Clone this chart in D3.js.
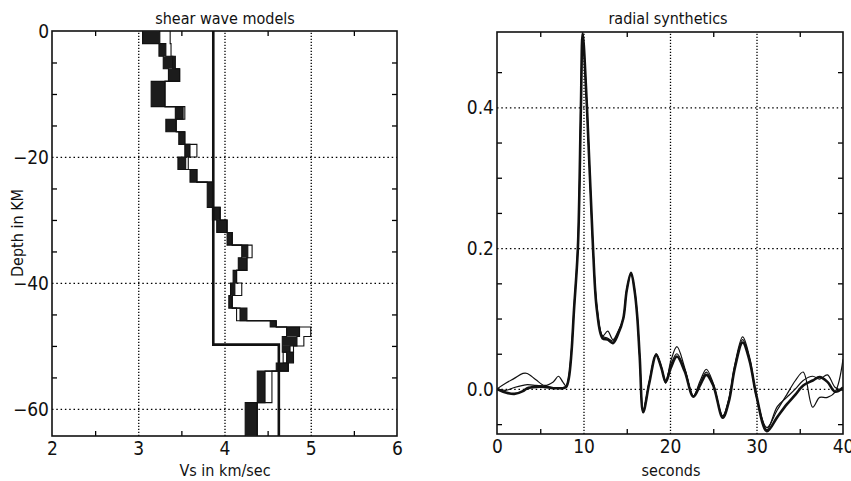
<!DOCTYPE html>
<html>
<head>
<meta charset="utf-8">
<script src="https://cdn.jsdelivr.net/npm/d3@7"></script>
<style>
  body { margin: 0; background: #fff; }
  text { font-family: "Liberation Sans Narrow", "DejaVu Sans Condensed", sans-serif; fill: #111; }
</style>
</head>
<body>
<div id="chart"></div>
<script>
// layer boundaries (km, negative = depth) and velocity spread of the inverted models
const layerDepth = [0, -2, -4, -6, -8, -12, -14, -16, -18, -20, -22, -24, -28, -30, -32, -34, -36, -38, -40, -42, -44, -46, -47, -48.5, -50, -51, -52.7, -54, -59, -64.3];
const vsLow     = [3.05, 3.24, 3.29, 3.35, 3.15, 3.43, 3.32, 3.47, 3.54, 3.46, 3.60, 3.80, 3.86, 3.91, 4.03, 4.20, 4.16, 4.10, 4.07, 4.05, 4.18, 4.53, 4.72, 4.67, 4.67, 4.72, 4.60, 4.38, 4.24];
const vsHigh    = [3.25, 3.32, 3.43, 3.48, 3.31, 3.52, 3.44, 3.54, 3.60, 3.55, 3.68, 3.87, 3.95, 4.03, 4.09, 4.27, 4.26, 4.14, 4.12, 4.09, 4.26, 4.60, 4.87, 4.84, 4.76, 4.80, 4.74, 4.47, 4.38];
const vsOutlier = [3.37, 3.38, 3.40, 3.48, 3.31, 3.54, 3.44, 3.54, 3.68, 3.58, 3.68, 3.87, 3.95, 4.03, 4.09, 4.32, 4.26, 4.14, 4.20, 4.09, 4.14, 4.60, 5.00, 4.92, 4.80, 4.68, 4.74, 4.55, 4.38];

// starting model
const startDepth = [0, -49.8, -64.3];
const startVs = [3.87, 4.63];

// radial synthetics
const times = [0, 1, 2, 3, 3.5, 4.5, 5.5, 6.5, 7.1, 7.6, 8, 8.3, 8.6, 8.9, 9.35, 9.7, 9.9, 10.4, 11.1, 11.55, 12.2, 12.8, 13.4, 14, 14.6, 15, 15.5, 15.9, 16.2, 16.5, 16.9, 17.6, 18.4, 19, 19.5, 20.1, 20.8, 21.7, 22.7, 23.5, 24.2, 25, 26.1, 26.8, 27.5, 28.4, 29.2, 30, 31.2, 32.4, 33.5, 34.5, 35.4, 36.5, 37.3, 38.2, 39.1, 40];
const traceA = [0, -0.005, -0.007, -0.003, 0.001, 0.003, 0.003, 0.001, 0.001, 0.001,
  0.003, 0.015, 0.05, 0.112, 0.2, 0.4, 0.505, 0.4, 0.2, 0.112,
  0.072, 0.07, 0.065, 0.078, 0.1, 0.14, 0.165, 0.14, 0.105, 0.045,
  -0.033, 0.008, 0.048, 0.03, 0.01, 0.03, 0.046, 0.025, -0.011, 0.006,
  0.02, 0.005, -0.041, -0.018, 0.03, 0.066, 0.04, -0.01, -0.06, -0.04,
  -0.022, -0.008, 0.005, 0.012, 0.017, 0.01, -0.004, 0.002];
const traceB = [0, 0.008, 0.015, 0.022, 0.022, 0.013, 0.005, 0.01, 0.018, 0.01,
  0.004, 0.018, 0.055, 0.115, 0.205, 0.4, 0.505, 0.4, 0.2, 0.118,
  0.075, 0.082, 0.07, 0.082, 0.1, 0.14, 0.163, 0.14, 0.105, 0.045,
  -0.03, 0.01, 0.05, 0.03, 0.008, 0.04, 0.06, 0.03, -0.01, 0.012,
  0.028, 0.008, -0.04, -0.015, 0.035, 0.074, 0.045, -0.01, -0.058, -0.025,
  -0.012, 0.0, 0.012, 0.018, 0.014, 0.02, 0.002, -0.002];
const traceC = [0, -0.002, 0.002, 0.005, 0.006, 0.005, 0.004, 0.002, 0.002, 0.002,
  0.004, 0.016, 0.052, 0.11, 0.2, 0.395, 0.5, 0.4, 0.2, 0.115,
  0.075, 0.072, 0.068, 0.08, 0.1, 0.142, 0.165, 0.142, 0.108, 0.045,
  -0.03, 0.01, 0.05, 0.032, 0.012, 0.035, 0.05, 0.028, -0.01, 0.008,
  0.024, 0.006, -0.038, -0.015, 0.032, 0.07, 0.042, -0.012, -0.055, -0.03,
  -0.008, 0.012, 0.024, -0.026, -0.012, -0.012, -0.004, 0.042];

const svg = d3.select("#chart")
  .append("svg")
  .attr("width", 851)
  .attr("height", 481);

const xVs = d3.scaleLinear().domain([2, 6]).range([52, 397]);
const yDepth = d3.scaleLinear().domain([0, -64.3]).range([31, 436]);

const xTime = d3.scaleLinear().domain([0, 40]).range([497, 843]);
const yAmp = d3.scaleLinear().domain([-0.064, 0.507]).range([434, 32]);

function drawFrame(x, y, cfg) {
  const [x0, x1] = x.range();
  const yTop = Math.min(...y.range());
  const yBot = Math.max(...y.range());
  const g = svg.append("g");

  // dotted grid
  g.append("g")
    .attr("transform", `translate(0,${yBot})`)
    .call(d3.axisBottom(x).tickValues(cfg.xGrid).tickSize(-(yBot - yTop)).tickFormat(""))
    .call(a => a.select(".domain").remove())
    .selectAll("line").attr("stroke-width", 1.3).attr("stroke-dasharray", "1.3,1.7");
  g.append("g")
    .attr("transform", `translate(${x0},0)`)
    .call(d3.axisLeft(y).tickValues(cfg.yGrid).tickSize(-(x1 - x0)).tickFormat(""))
    .call(a => a.select(".domain").remove())
    .selectAll("line").attr("stroke-width", 1.2).attr("stroke-dasharray", "1.5,2.8");

  // minor ticks on all four sides, pointing inward
  const minor = [
    [d3.axisBottom(x).tickValues(cfg.xMinor), `translate(0,${yBot})`],
    [d3.axisTop(x).tickValues(cfg.xMinor), `translate(0,${yTop})`],
    [d3.axisLeft(y).tickValues(cfg.yMinor), `translate(${x0},0)`],
    [d3.axisRight(y).tickValues(cfg.yMinor), `translate(${x1},0)`]
  ];
  minor.forEach(([ax, tr]) => {
    g.append("g")
      .attr("transform", tr)
      .call(ax.tickSize(-5).tickFormat(""))
      .call(a => a.select(".domain").remove())
      .selectAll("line").attr("stroke-width", 1.3);
  });

  // tick labels
  g.append("g")
    .attr("transform", `translate(0,${yBot})`)
    .call(d3.axisBottom(x).tickValues(cfg.xLabels).tickSize(0).tickPadding(6).tickFormat(cfg.xFormat))
    .attr("font-size", 19)
    .call(a => a.select(".domain").remove());
  g.append("g")
    .attr("transform", `translate(${x0},0)`)
    .call(d3.axisLeft(y).tickValues(cfg.yLabels).tickSize(0).tickPadding(3).tickFormat(cfg.yFormat))
    .attr("font-size", 19)
    .call(a => a.select(".domain").remove());

  // frame
  g.append("rect")
    .attr("x", x0)
    .attr("y", yTop)
    .attr("width", x1 - x0)
    .attr("height", yBot - yTop)
    .attr("fill", "none")
    .attr("stroke", "#111")
    .attr("stroke-width", 1.6);
  return g;
}

drawFrame(xVs, yDepth, {
  xGrid: [3, 4, 5], yGrid: [-20, -40, -60],
  xMinor: [2.5, 3.5, 4.5, 5.5],
  yMinor: [-5, -10, -15, -25, -30, -35, -45, -50, -55],
  xLabels: [2, 3, 4, 5, 6], yLabels: [0, -20, -40, -60],
  xFormat: d3.format("d"), yFormat: d3.format("d")
});

drawFrame(xTime, yAmp, {
  xGrid: [10, 20, 30], yGrid: [0, 0.2, 0.4],
  xMinor: [5, 15, 25, 35],
  yMinor: [-0.05, 0.05, 0.1, 0.15, 0.25, 0.3, 0.35, 0.45],
  xLabels: [0, 10, 20, 30, 40], yLabels: [0, 0.2, 0.4],
  xFormat: d3.format("d"), yFormat: d3.format(".1f")
});

// shear wave models
const layers = vsLow.map((v, i) => ({ top: layerDepth[i], bottom: layerDepth[i + 1], lo: v, hi: vsHigh[i] }));

svg.append("g")
  .selectAll("rect")
  .data(layers)
  .enter()
  .append("rect")
  .attr("x", d => xVs(d.lo))
  .attr("y", d => yDepth(d.top))
  .attr("width", d => xVs(d.hi) - xVs(d.lo))
  .attr("height", d => yDepth(d.bottom) - yDepth(d.top))
  .attr("fill", "#1c1c1c");

function stepPoints(vs, depths) {
  const pts = [];
  vs.forEach((v, i) => {
    pts.push([v, depths[i]], [v, depths[i + 1]]);
  });
  return pts;
}

const modelLine = d3.line()
  .x(d => xVs(d[0]))
  .y(d => yDepth(d[1]));

[vsLow, vsHigh, vsOutlier].forEach(vs => {
  svg.append("path")
    .attr("d", modelLine(stepPoints(vs, layerDepth)))
    .attr("fill", "none")
    .attr("stroke", "#111")
    .attr("stroke-width", 1.1);
});

svg.append("path")
  .attr("d", modelLine(stepPoints(startVs, startDepth)))
  .attr("fill", "none")
  .attr("stroke", "#111")
  .attr("stroke-width", 2.6);

// radial synthetics
svg.append("clipPath")
  .attr("id", "clipR")
  .append("rect")
  .attr("x", 497).attr("y", 32)
  .attr("width", 346).attr("height", 402);

const traceLine = d3.line()
  .x((d, i) => xTime(times[i]))
  .y(d => yAmp(d))
  .curve(d3.curveCatmullRom.alpha(0.5));

const traces = [[traceB, 1.2], [traceC, 1.2], [traceA, 2.6]];
traces.forEach(([vals, w]) => {
  svg.append("path")
    .attr("clip-path", "url(#clipR)")
    .attr("d", traceLine(vals))
    .attr("fill", "none")
    .attr("stroke", "#111")
    .attr("stroke-width", w)
    .attr("stroke-linejoin", "round");
});

// titles and axis names
svg.append("text").attr("x", 225).attr("y", 24).attr("text-anchor", "middle").attr("font-size", 16).text("shear  wave  models");
svg.append("text").attr("x", 668).attr("y", 24).attr("text-anchor", "middle").attr("font-size", 16).text("radial  synthetics");
svg.append("text").attr("x", 225).attr("y", 476).attr("text-anchor", "middle").attr("font-size", 16).text("Vs  in  km/sec");
svg.append("text").attr("x", 671).attr("y", 476).attr("text-anchor", "middle").attr("font-size", 16).text("seconds");
svg.append("text")
  .attr("transform", "translate(23,233) rotate(-90)")
  .attr("text-anchor", "middle")
  .attr("font-size", 16)
  .text("Depth  in  KM");
</script>
</body>
</html>
